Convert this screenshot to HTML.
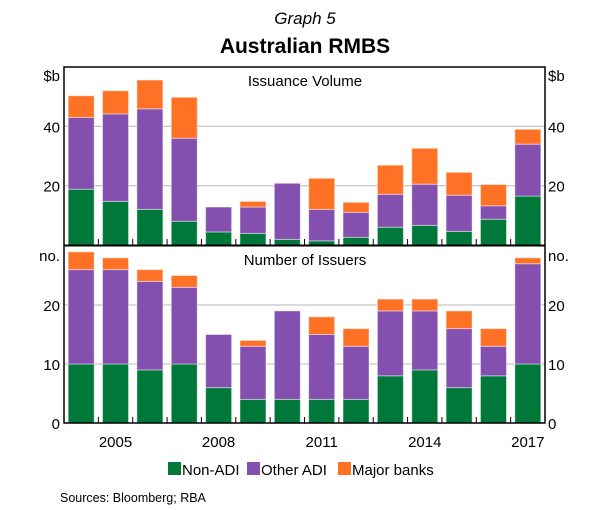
<!DOCTYPE html>
<html><head><meta charset="utf-8"><style>
body{margin:0;background:#fff;}
svg{display:block;font-family:"Liberation Sans",Arial,sans-serif;}
</style></head><body>
<svg id="chart" width="607" height="510" viewBox="0 0 607 510" xmlns="http://www.w3.org/2000/svg">
<text x="305" y="24" text-anchor="middle" font-size="17" font-style="italic">Graph 5</text>
<text x="305" y="53" text-anchor="middle" font-size="21" font-weight="bold">Australian RMBS</text>
<g id="top"></g>
<g id="bot"></g>
<g id="axes"></g>
<g>
<rect x="168" y="462" width="13" height="13" fill="#00783a"/><text x="182" y="475" font-size="15">Non-ADI</text>
<rect x="247" y="462" width="13" height="13" fill="#8450b0"/><text x="261" y="475" font-size="15">Other ADI</text>
<rect x="338" y="462" width="13" height="13" fill="#ff7226"/><text x="352" y="475" font-size="15">Major banks</text>
</g>
<text x="60" y="502" font-size="12.5">Sources:  Bloomberg; RBA</text>
</svg>
<script>
const years=[2004,2005,2006,2007,2008,2009,2010,2011,2012,2013,2014,2015,2016,2017];
const volNonADI=[18.8,14.7,12,8,4.4,3.9,1.9,1.4,2.6,6,6.6,4.6,8.7,16.5];
const volOtherADI=[24.2,29.5,33.9,28,8.4,8.9,18.9,10.6,8.4,11.1,13.9,12.2,4.5,17.5];
const volMajor=[7.3,7.8,9.7,13.8,0,1.9,0,10.5,3.4,9.8,12.1,7.7,7.2,5];
const numNonADI=[10,10,9,10,6,4,4,4,4,8,9,6,8,10];
const numOtherADI=[16,16,15,13,9,9,15,11,9,11,10,10,5,17];
const numMajor=[3,2,2,2,0,1,0,3,3,2,2,3,3,1];
const topTicks=[20,40];
const botTicks=[0,10,20];
const xLabels=[2005,2008,2011,2014,2017];
const NS="http://www.w3.org/2000/svg";
const L=64,R=545,n=years.length,slot=(R-L)/n,bw=26;
const cols=["#00783a","#8450b0","#ff7226"];
function xc(i){return L+slot*(i+0.5);}
function yTop(v){return 245-(v/60)*(245-67);}
function yBot(v){return 423-(v/30)*(423-246);}
function mk(tag,attrs,parent){const e=document.createElementNS(NS,tag);for(const k in attrs)e.setAttribute(k,attrs[k]);parent.appendChild(e);return e;}
const axes=document.getElementById('axes');
const gt=document.getElementById('top'),gb=document.getElementById('bot');
topTicks.forEach(t=>{const l=mk('line',{x1:L,x2:R,y1:yTop(t),y2:yTop(t),stroke:'#c8c8c8','stroke-width':1.3},gt);

});
botTicks.slice(1).forEach(t=>{const l=mk('line',{x1:L,x2:R,y1:yBot(t),y2:yBot(t),stroke:'#c8c8c8','stroke-width':1.3},gb);

});
function stack(g,series,yf,prefix){
 years.forEach((yr,i)=>{let base=0;
  series.forEach((s,k)=>{const v=s[i];if(v<=0)return;
   const r=mk('rect',{x:xc(i)-bw/2,y:yf(base+v),width:bw,height:yf(base)-yf(base+v),fill:cols[k],stroke:'rgba(255,255,255,0.45)','stroke-width':1},g);
   
   
   base+=v;});});
}
stack(gt,[volNonADI,volOtherADI,volMajor],yTop,'volume');
stack(gb,[numNonADI,numOtherADI,numMajor],yBot,'issuers');
// frame
let f=mk('rect',{x:L,y:67,width:R-L,height:423-67,fill:'none',stroke:'#000','stroke-width':1.5},axes);


let d=mk('line',{x1:L,x2:R,y1:245.5,y2:245.5,stroke:'#000','stroke-width':2},axes);


for(let i=1;i<n;i++){const x=L+slot*i;
 const t=mk('line',{x1:x,x2:x,y1:423,y2:417,stroke:'#000','stroke-width':1},axes);
 
 
 const t2=mk('line',{x1:x,x2:x,y1:245,y2:239,stroke:'#000','stroke-width':1},axes);
 
 }
function txt(s,attrs,name){const e=mk('text',attrs,axes);e.textContent=s;
 
 return e;}
xLabels.forEach(y=>{const i=years.indexOf(y);txt(String(y),{x:xc(i),y:447,'text-anchor':'middle','font-size':15},'x-label-'+y);});
topTicks.forEach(t=>{txt(String(t),{x:L-4,y:yTop(t)+6,'text-anchor':'end','font-size':15},'top-left-tick');txt(String(t),{x:R+3,y:yTop(t)+6,'font-size':15},'top-right-tick');});
botTicks.forEach(t=>{txt(String(t),{x:L-4,y:yBot(t)+6,'text-anchor':'end','font-size':15},'bottom-left-tick');txt(String(t),{x:R+3,y:yBot(t)+6,'font-size':15},'bottom-right-tick');});
txt('$b',{x:L-4,y:81,'text-anchor':'end','font-size':15},'top-left-unit');
txt('$b',{x:R+3,y:81,'font-size':15},'top-right-unit');
txt('no.',{x:L-4,y:261,'text-anchor':'end','font-size':15},'bottom-left-unit');
txt('no.',{x:R+3,y:261,'font-size':15},'bottom-right-unit');
txt('Issuance Volume',{x:305,y:86,'text-anchor':'middle','font-size':15},'top-panel-title');
txt('Number of Issuers',{x:305,y:265,'text-anchor':'middle','font-size':15},'bottom-panel-title');
</script>
</body></html>
